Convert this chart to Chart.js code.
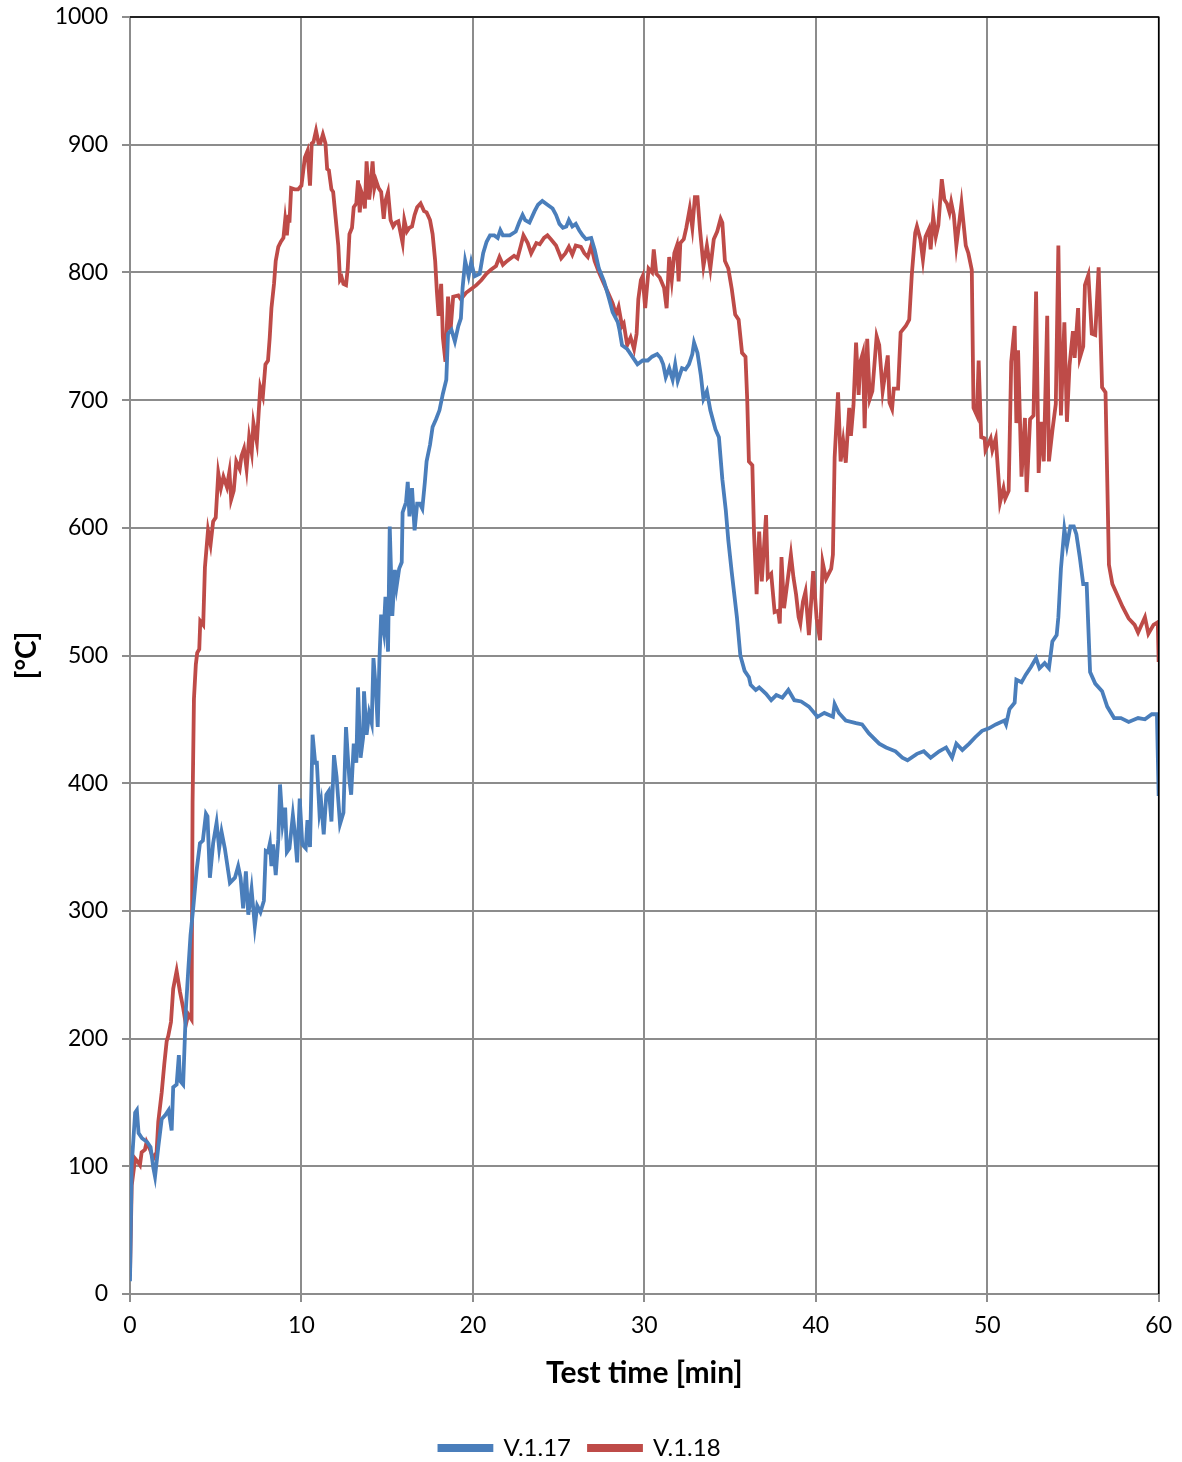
<!DOCTYPE html>
<html>
<head>
<meta charset="utf-8">
<script src="https://cdn.jsdelivr.net/npm/chart.js@4.4.1/dist/chart.umd.min.js"></script>
<style>
  html, body { margin: 0; padding: 0; background: #fff; overflow: hidden; }
  #wrap { width: 1182px; height: 1470px; }
</style>
</head>
<body>
<div id="wrap"><canvas id="grafico"></canvas></div>
<script>
// V.1.17 (blue) - test time [min] / temperature [°C]
const tempoV117 = [0,0.1,0.3,0.4,0.5,0.7,1.0,1.2,1.36,1.46,1.65,1.85,2.05,2.25,2.43,2.52,2.72,2.85,2.92,3.1,
  3.26,3.4,3.53,3.7,3.88,4.08,4.25,4.43,4.52,4.66,4.85,5.05,5.2,5.34,5.53,5.63,5.83,6.12,6.31,6.45,
  6.6,6.76,6.9,7.09,7.28,7.42,7.61,7.81,7.92,8.05,8.16,8.25,8.35,8.5,8.65,8.75,8.9,9.05,9.15,9.3,
  9.5,9.6,9.75,9.9,10.05,10.25,10.35,10.5,10.65,10.8,10.9,11.05,11.15,11.3,11.45,11.6,11.75,11.9,12.05,12.25,
  12.45,12.6,12.7,12.8,12.9,13.05,13.2,13.3,13.45,13.6,13.65,13.8,13.95,14.1,14.2,14.35,14.45,14.55,14.65,14.8,
  14.9,15.05,15.15,15.3,15.45,15.55,15.7,15.85,15.9,16.1,16.2,16.3,16.45,16.6,16.75,16.9,17.05,17.2,17.3,17.5,
  17.65,17.85,18.05,18.25,18.45,18.55,18.75,18.95,19.15,19.3,19.4,19.55,19.75,19.9,20.1,20.4,20.6,20.8,21.0,21.25,
  21.45,21.6,21.75,22.15,22.5,22.7,22.9,23.05,23.3,23.6,23.8,24.05,24.35,24.65,24.85,25.05,25.25,25.45,25.6,25.8,
  26.0,26.2,26.4,26.6,26.9,27.1,27.35,27.65,27.95,28.15,28.45,28.55,28.7,29.0,29.3,29.6,29.9,30.2,30.45,30.75,
  30.95,31.1,31.25,31.45,31.65,31.8,31.95,32.2,32.4,32.6,32.8,32.9,33.1,33.3,33.45,33.65,33.85,34.15,34.35,34.55,
  34.75,34.9,35.1,35.4,35.6,35.85,36.1,36.2,36.5,36.7,37.1,37.4,37.7,38.05,38.4,38.75,39.15,39.6,40.1,40.5,
  41.0,41.1,41.35,41.75,42.35,42.7,43.1,43.7,44.1,44.65,45.05,45.35,45.9,46.3,46.7,47.2,47.6,47.95,48.2,48.55,
  48.95,49.3,49.7,50.1,50.5,51.0,51.1,51.3,51.6,51.7,52.0,52.25,52.55,52.85,53.05,53.35,53.6,53.8,54.05,54.15,
  54.3,54.5,54.65,54.85,55.05,55.2,55.4,55.6,55.8,56.0,56.3,56.7,57.0,57.4,57.8,58.25,58.8,59.2,59.6,59.9,60.0];
const valorV117 = [10,101,142,144,126,122,119,115,99,92,115,137,140,144,128,162,164,187,167,164,
  223,254,281,304,331,353,355,376,374,326,353,369,349,362,349,340,322,326,335,326,
  302,331,297,317,288,304,299,308,347,346,353,335,352,328,356,399,368,381,346,349,
  375,363,338,388,352,349,371,350,438,416,416,377,385,360,391,394,370,422,405,368,
  377,444,422,402,391,431,416,475,420,436,472,438,455,447,498,472,444,497,532,519,
  546,503,601,531,567,554,568,573,612,620,636,609,631,598,619,619,615,636,652,665,
  679,685,692,705,716,752,755,746,758,764,788,809,797,808,797,799,815,824,829,829,
  827,833,829,829,832,839,845,841,839,848,853,856,853,850,845,838,835,836,841,836,
  838,833,829,826,827,818,803,793,779,769,761,755,743,740,734,728,731,731,734,736,
  733,728,718,725,716,728,715,725,724,728,736,745,737,719,701,707,692,677,671,638,
  614,590,565,530,500,488,483,477,473,475,470,465,469,467,473,465,464,460,452,455,
  452,462,455,449,447,446,439,431,428,425,420,418,423,425,420,425,428,420,431,426,
  431,436,441,443,446,449,446,458,463,481,479,485,491,498,490,494,490,511,516,530,
  568,599,586,601,601,595,577,556,556,487,478,472,460,451,451,448,451,450,454,454,390];

// V.1.18 (red)
const tempoV118 = [0,0.1,0.3,0.48,0.58,0.68,0.87,0.97,1.17,1.36,1.55,1.65,1.85,2.0,2.14,2.23,2.39,2.52,2.72,2.91,
  3.1,3.26,3.4,3.59,3.65,3.73,3.84,3.92,4.04,4.1,4.27,4.37,4.55,4.7,4.85,5.0,5.15,5.3,5.45,5.65,
  5.8,5.9,6.05,6.2,6.4,6.5,6.65,6.8,6.95,7.1,7.2,7.4,7.5,7.6,7.75,7.9,8.05,8.15,8.25,8.4,
  8.5,8.65,8.8,8.95,9.05,9.15,9.25,9.3,9.4,9.6,9.8,10.0,10.2,10.35,10.5,10.6,10.7,10.85,11.0,11.1,
  11.25,11.4,11.5,11.6,11.75,11.85,12.0,12.15,12.25,12.35,12.45,12.6,12.7,12.8,12.95,13.05,13.2,13.3,13.4,13.5,
  13.6,13.7,13.8,13.95,14.0,14.15,14.25,14.35,14.5,14.65,14.8,14.9,15.05,15.2,15.35,15.5,15.65,15.75,15.9,16.0,
  16.15,16.3,16.45,16.6,16.75,16.95,17.15,17.3,17.5,17.65,17.8,17.9,18.0,18.15,18.25,18.4,18.55,18.7,18.85,19.15,
  19.3,19.6,19.9,20.2,20.5,20.8,21.05,21.35,21.55,21.75,22.0,22.4,22.6,22.8,22.95,23.2,23.4,23.7,23.9,24.15,
  24.35,24.55,24.85,25.15,25.4,25.6,25.8,26.0,26.3,26.5,26.7,26.9,27.1,27.35,27.65,27.95,28.15,28.35,28.5,28.7,
  28.8,29.0,29.2,29.4,29.55,29.65,29.8,29.9,30.05,30.25,30.45,30.55,30.7,30.9,31.15,31.3,31.45,31.6,31.75,31.9,
  32.0,32.1,32.3,32.45,32.65,32.8,32.95,33.1,33.25,33.45,33.65,33.85,34.05,34.25,34.45,34.55,34.7,34.9,35.1,35.3,
  35.5,35.7,35.9,36.0,36.1,36.3,36.4,36.55,36.7,36.85,37.1,37.2,37.4,37.6,37.8,37.9,38.0,38.15,38.35,38.55,
  38.7,38.85,39.0,39.1,39.25,39.4,39.6,39.85,40.05,40.25,40.4,40.6,40.9,41.0,41.1,41.3,41.45,41.6,41.75,41.95,
  42.05,42.2,42.35,42.5,42.6,42.75,42.85,43.0,43.15,43.3,43.55,43.7,43.9,44.2,44.3,44.45,44.55,44.8,44.95,45.25,
  45.45,45.6,45.8,45.9,46.1,46.25,46.4,46.6,46.7,46.85,47.0,47.15,47.35,47.5,47.65,47.8,47.9,48.05,48.2,48.35,
  48.5,48.75,48.9,49.1,49.2,49.4,49.5,49.65,49.85,49.9,50.2,50.3,50.5,50.7,50.75,50.95,51.05,51.25,51.4,51.6,
  51.7,51.8,52.0,52.2,52.3,52.5,52.7,52.85,53.0,53.15,53.3,53.5,53.6,53.8,54.0,54.15,54.3,54.5,54.65,54.8,
  55.0,55.1,55.3,55.4,55.6,55.7,55.9,56.1,56.3,56.5,56.7,56.9,57.1,57.3,57.6,57.9,58.25,58.6,58.8,59.2,
  59.4,59.7,59.95,60.0];
const valorV118 = [15,85,106,103,101,111,113,119,113,106,111,135,158,180,198,202,213,239,253,237,
  224,211,219,215,385,466,493,502,505,527,524,569,598,587,605,608,643,631,640,632,
  644,622,629,652,646,656,662,646,671,659,682,667,689,710,703,728,731,749,772,791,
  809,820,824,827,841,829,845,839,866,865,865,868,890,895,868,901,902,911,901,901,
  908,901,881,880,865,863,842,821,794,796,791,790,803,830,835,851,854,872,847,863,
  859,850,887,857,863,887,866,872,866,863,842,856,863,841,836,839,840,833,823,841,
  832,835,836,845,851,854,848,847,841,830,809,785,766,791,749,730,781,755,781,782,
  779,784,787,790,794,799,802,805,812,806,809,813,811,821,829,823,815,823,822,827,
  829,826,821,811,815,820,814,821,820,815,812,821,809,800,791,782,776,767,773,758,
  760,743,749,740,752,779,794,797,772,803,800,818,799,796,788,772,812,794,815,821,
  793,823,826,835,850,835,859,859,833,805,821,803,826,832,842,839,809,803,787,767,
  763,737,734,701,652,649,595,548,597,558,610,561,564,534,535,525,577,537,558,579,
  561,548,530,525,542,550,516,566,529,512,573,560,568,579,655,706,652,668,651,694,
  672,696,745,704,730,737,678,748,701,707,750,743,707,735,698,693,709,709,753,758,
  763,798,831,836,826,810,828,834,818,844,828,837,873,857,854,847,855,845,821,837,
  854,821,815,802,694,688,731,671,670,661,670,661,670,631,620,631,623,629,730,758,
  682,739,640,686,628,685,688,785,643,683,652,766,652,676,697,821,688,761,683,727,
  754,733,772,733,742,790,798,752,751,804,710,706,571,556,547,538,529,524,518,530,
  517,524,526,495];

const series = ['V.1.17', 'V.1.18'];
const coresLinha = ['#4a7ebb', '#be4b48'];

function pontos(tempos, valores) {
  return tempos.map((t, i) => ({ x: t, y: valores[i] }));
}

// borda preta em cima e à direita da área do gráfico
const bordaArea = {
  id: 'bordaArea',
  afterDraw(chart) {
    const a = chart.chartArea;
    const ctx = chart.ctx;
    ctx.save();
    ctx.strokeStyle = '#000';
    ctx.lineWidth = 1.5;
    ctx.beginPath();
    ctx.moveTo(a.left, a.top);
    ctx.lineTo(a.right, a.top);
    ctx.lineTo(a.right, a.bottom);
    ctx.stroke();
    ctx.restore();
  }
};

const fonte = "Lato, 'Liberation Sans', sans-serif";

const dados = {
  datasets: [
    {
      label: series[0],
      data: pontos(tempoV117, valorV117),
      borderColor: coresLinha[0],
      backgroundColor: coresLinha[0],
      borderWidth: 3.8,
      pointRadius: 0,
      tension: 0
    },
    {
      label: series[1],
      data: pontos(tempoV118, valorV118),
      borderColor: coresLinha[1],
      backgroundColor: coresLinha[1],
      borderWidth: 3.8,
      pointRadius: 0,
      tension: 0
    }
  ]
};

const config = {
  type: 'line',
  data: dados,
  plugins: [bordaArea],
  options: {
    responsive: true,
    maintainAspectRatio: false,
    animation: false,
    layout: { padding: { top: 17, right: 22, left: 0, bottom: 0 } },
    plugins: {
      legend: {
        position: 'bottom',
        labels: {
          boxWidth: 52,
          boxHeight: 4,
          padding: 18,
          color: '#000',
          font: { family: fonte, size: 24 }
        }
      },
      tooltip: { enabled: false }
    },
    scales: {
      x: {
        type: 'linear',
        min: 0,
        max: 60,
        ticks: {
          stepSize: 10, color: '#000', padding: 10,
          font: { family: fonte, size: 23 },
          callback: (v) => String(v)
        },
        grid: { color: '#8c8c8c', lineWidth: 2, tickLength: 8 },
        border: { color: '#8c8c8c', width: 2 },
        title: {
          display: true,
          text: 'Test time [min]',
          color: '#000',
          font: { family: fonte, size: 30, weight: 'bold' },
          padding: { top: 8, bottom: 27 }
        },
        afterFit: (scale) => { scale.height = 124; }
      },
      y: {
        min: 0,
        max: 1000,
        ticks: {
          stepSize: 100, color: '#000', padding: 14,
          font: { family: fonte, size: 23 },
          callback: (v) => String(v)
        },
        grid: { color: '#8c8c8c', lineWidth: 2, tickLength: 8 },
        border: { color: '#8c8c8c', width: 2 },
        title: {
          display: true,
          text: '[°C]',
          color: '#000',
          font: { family: fonte, size: 28, weight: 'bold' },
          padding: { top: 10, bottom: 0 }
        },
        afterFit: (scale) => {
          scale.width = 130;
          scale.paddingTop = 0;
          scale.paddingBottom = 0;
        }
      }
    }
  }
};

const grafico = new Chart(document.getElementById('grafico'), config);
</script>
</body>
</html>
